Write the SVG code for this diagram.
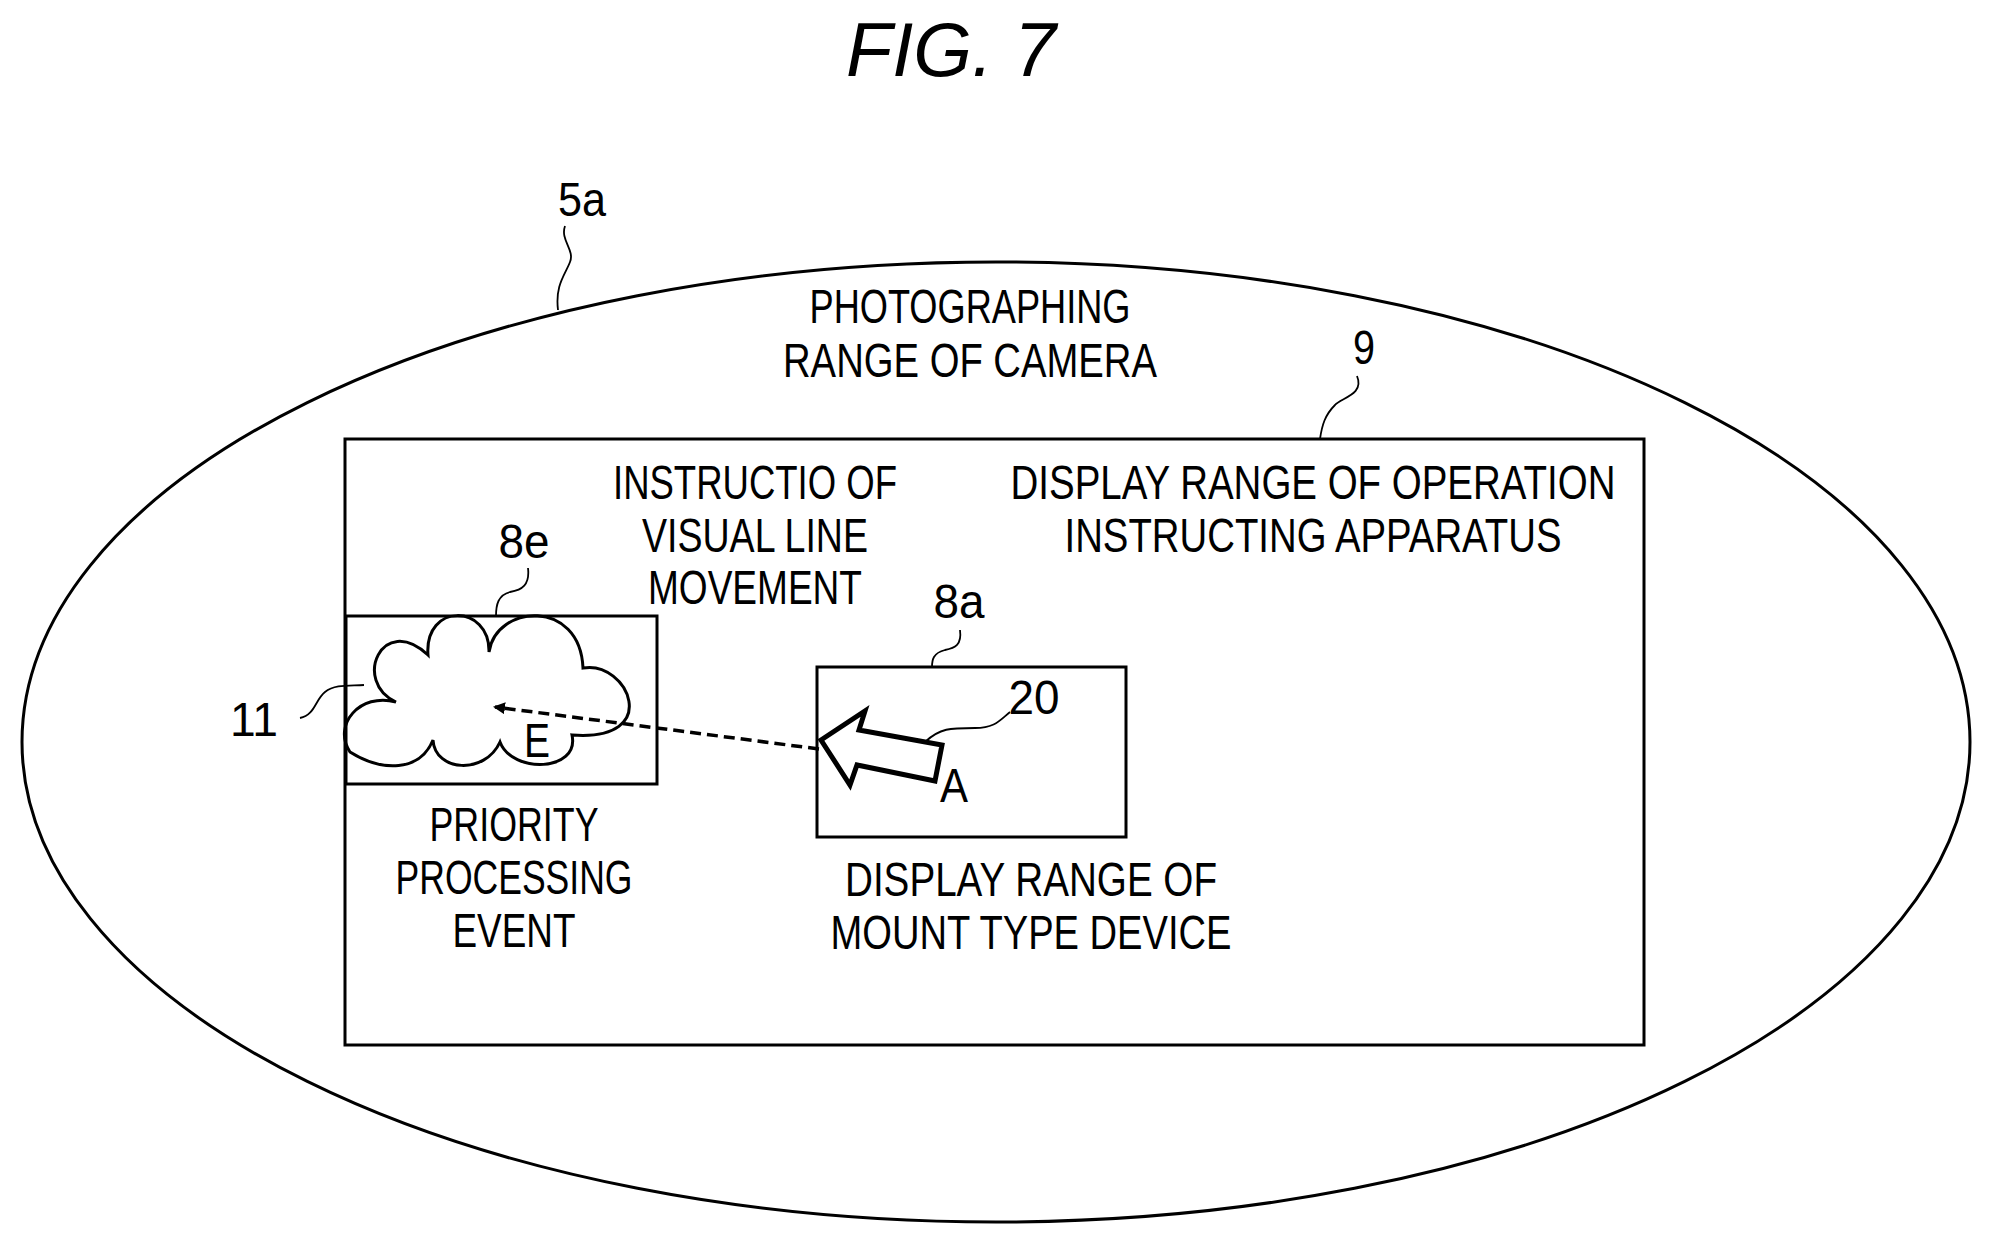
<svg xmlns="http://www.w3.org/2000/svg" width="1989" height="1244" viewBox="0 0 1989 1244">
<style>
text{font-family:"Liberation Sans",Arial,sans-serif;font-size:48px;fill:#000;text-anchor:middle}
.b{fill:none;stroke:#000;stroke-width:3}
.l{fill:none;stroke:#000;stroke-width:1.8}
</style>
<defs><marker id="ah" markerWidth="12" markerHeight="12" refX="10" refY="6" orient="auto" markerUnits="userSpaceOnUse" viewBox="0 0 12 12"><path d="M0,0 L12,6 L0,12 Z" fill="#000"/></marker></defs>
<rect width="1989" height="1244" fill="#fff"/>
<text x="951" y="76" style="font-style:italic;font-size:76px" textLength="210" lengthAdjust="spacingAndGlyphs">FIG.  7</text>
<g id="n5a">
<ellipse class="b" cx="996" cy="742" rx="974" ry="480"/>
<path class="l" d="M565,226 C560,240 575,250 570,262 C565,275 555,285 558,310"/>
<text x="582" y="216" textLength="48" lengthAdjust="spacingAndGlyphs">5a</text>
<text x="970" y="323" textLength="321" lengthAdjust="spacingAndGlyphs">PHOTOGRAPHING</text>
<text x="970" y="377" textLength="374" lengthAdjust="spacingAndGlyphs">RANGE OF CAMERA</text>
</g>
<g id="n9">
<rect class="b" x="345" y="439" width="1299" height="606"/>
<path class="l" d="M1357,376 C1365,395 1340,398 1335,405 C1325,415 1322,425 1320,439"/>
<text x="1364" y="364" textLength="22" lengthAdjust="spacingAndGlyphs">9</text>
<text x="1313" y="499" textLength="605" lengthAdjust="spacingAndGlyphs">DISPLAY RANGE OF OPERATION</text>
<text x="1313" y="552" textLength="497" lengthAdjust="spacingAndGlyphs">INSTRUCTING APPARATUS</text>
</g>
<g id="instr">
<text x="755" y="499" textLength="284" lengthAdjust="spacingAndGlyphs">INSTRUCTIO OF</text>
<text x="755" y="552" textLength="226" lengthAdjust="spacingAndGlyphs">VISUAL LINE</text>
<text x="755" y="604" textLength="214" lengthAdjust="spacingAndGlyphs">MOVEMENT</text>
</g>
<g id="n8e">
<rect class="b" x="346" y="616" width="311" height="168"/>
<path class="l" d="M528,568 C530,585 522,590 510,592 C498,595 496,605 496,616"/>
<text x="524" y="558" textLength="51" lengthAdjust="spacingAndGlyphs">8e</text>
<text x="514" y="841" textLength="169" lengthAdjust="spacingAndGlyphs">PRIORITY</text>
<text x="514" y="894" textLength="237" lengthAdjust="spacingAndGlyphs">PROCESSING</text>
<text x="514" y="947" textLength="123" lengthAdjust="spacingAndGlyphs">EVENT</text>
</g>
<g id="n11">
<path class="b" d="M350,752 C332,725 360,692 396,702 C352,682 382,612 428,655 C424,602 490,604 489,652 C496,604 580,598 583,668 C628,660 664,742 572,735 C580,772 512,774 500,742 C485,775 435,772 433,740 C420,772 382,772 350,752 Z"/>
<path class="l" d="M300,718 C315,715 315,700 325,692 C335,684 350,686 364,685"/>
<text x="254" y="736" textLength="48" lengthAdjust="spacingAndGlyphs">11</text>
<text x="537" y="757" textLength="26" lengthAdjust="spacingAndGlyphs">E</text>
</g>
<g id="n8a">
<rect class="b" x="817" y="667" width="309" height="170"/>
<path class="l" d="M960,630 C962,645 955,648 945,650 C933,653 932,660 932,667"/>
<text x="959" y="618" textLength="51" lengthAdjust="spacingAndGlyphs">8a</text>
<text x="1031" y="896" textLength="372" lengthAdjust="spacingAndGlyphs">DISPLAY RANGE OF</text>
<text x="1031" y="949" textLength="401" lengthAdjust="spacingAndGlyphs">MOUNT TYPE DEVICE</text>
</g>
<g id="n20">
<path fill="#fff" stroke="#000" stroke-width="5" stroke-linejoin="miter" d="M821,740 L865,711 L859,730 L942,745 L935,781 L857,765 L850,785 Z"/>
<path class="l" d="M925,742 C940,728 950,728 975,728 C995,728 1000,720 1010,712"/>
<text x="1034" y="714" textLength="51" lengthAdjust="spacingAndGlyphs">20</text>
<text x="954" y="802" textLength="28" lengthAdjust="spacingAndGlyphs">A</text>
</g>
<g id="connectors">
<line x1="819" y1="749" x2="495" y2="707" stroke="#000" stroke-width="3.5" stroke-dasharray="11,6" marker-end="url(#ah)"/>
</g>
</svg>
